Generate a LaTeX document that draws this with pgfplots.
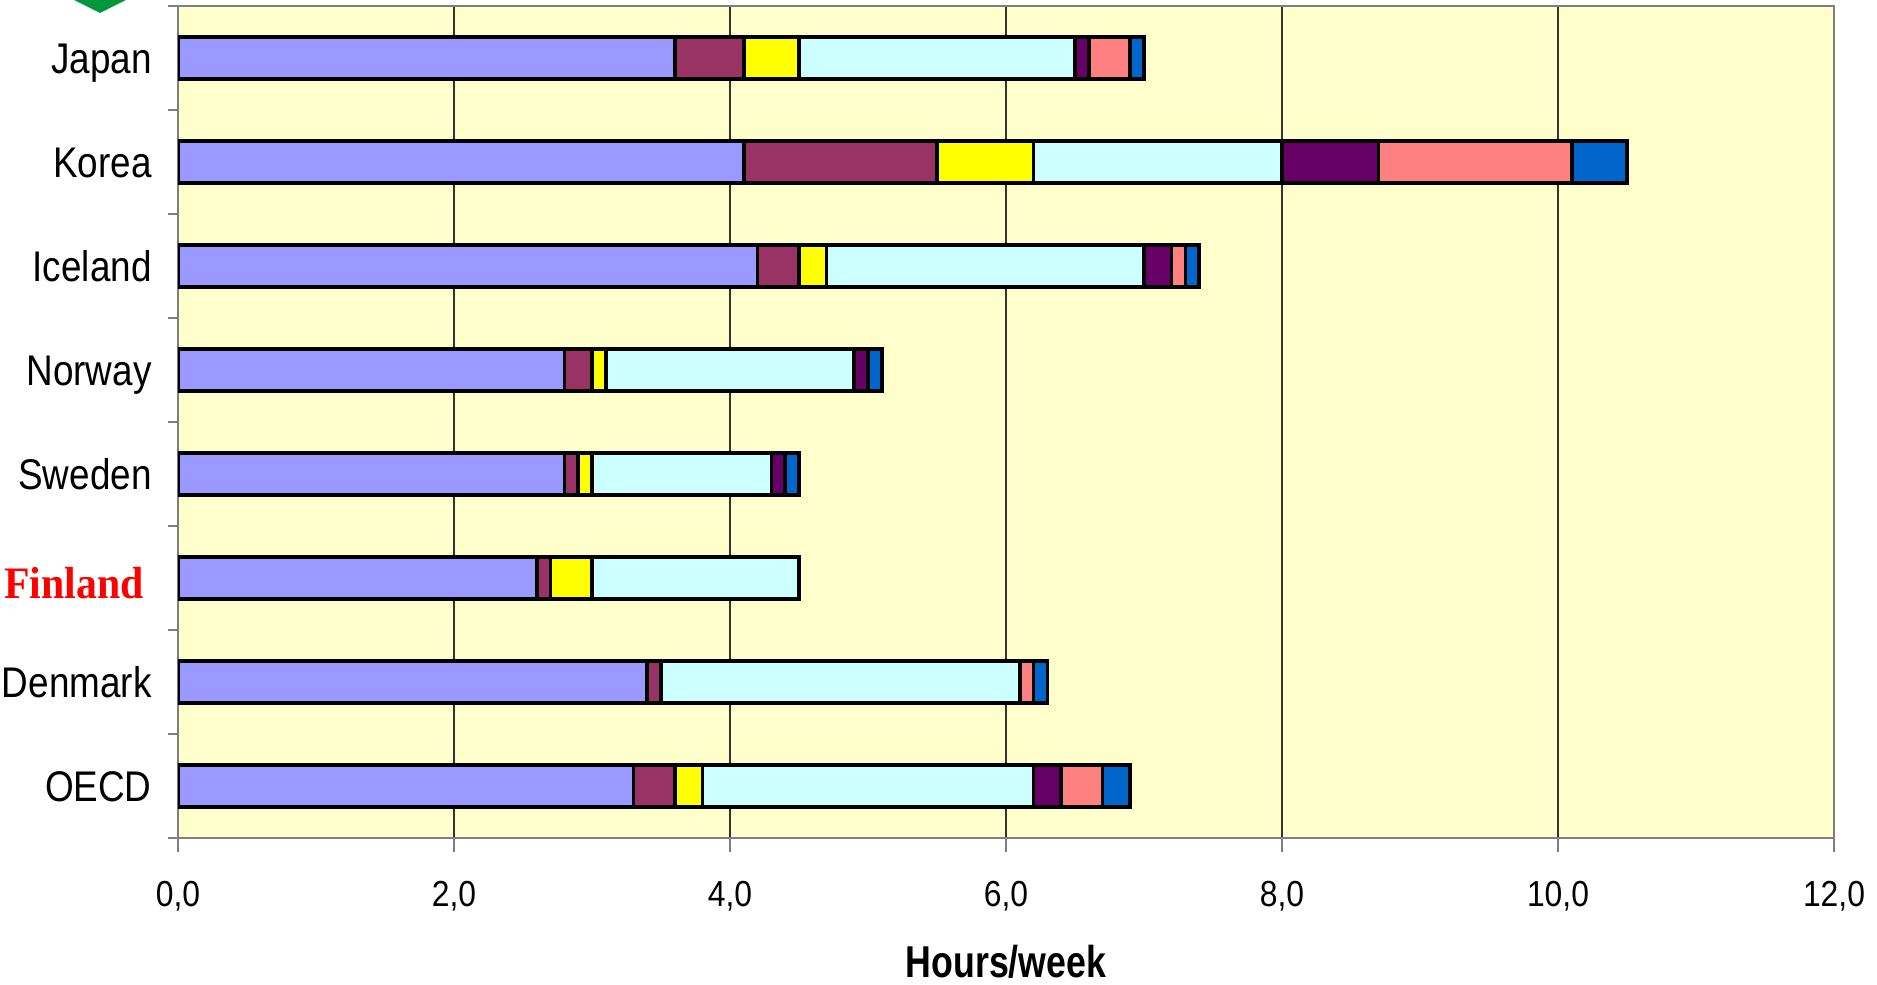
\documentclass[border=0pt]{standalone}
\usepackage{fontspec}
\setmainfont{Liberation Sans}[FakeStretch=0.86]
\newfontfamily\finfont{Liberation Serif}[FakeStretch=0.93]
\newfontfamily\labfont{Liberation Sans}[FakeStretch=0.8]
\newfontfamily\tickfont{Liberation Sans}[FakeStretch=0.88]
\usepackage{pgfplots}
\usepackage{pgfplotstable}
\pgfplotsset{compat=1.18}

\definecolor{c1}{HTML}{9999FF}
\definecolor{c2}{HTML}{993366}
\definecolor{c3}{HTML}{FFFF00}
\definecolor{c4}{HTML}{CCFFFF}
\definecolor{c5}{HTML}{660066}
\definecolor{c6}{HTML}{FF8080}
\definecolor{c7}{HTML}{0066CC}
\definecolor{bgyellow}{HTML}{FFFFCC}
\definecolor{dgreen}{RGB}{0,150,60}

% y: 8=Japan ... 1=OECD
\pgfplotstableread{
y s1  s2  s3  s4  s5  s6  s7
8 3.6 0.5 0.4 2.0 0.1 0.3 0.1
7 4.1 1.4 0.7 1.8 0.7 1.4 0.4
6 4.2 0.3 0.2 2.3 0.2 0.1 0.1
5 2.8 0.2 0.1 1.8 0.1 0.0 0.1
4 2.8 0.1 0.1 1.3 0.1 0.0 0.1
3 2.6 0.1 0.3 1.5 0.0 0.0 0.0
2 3.4 0.1 0.0 2.6 0.0 0.1 0.1
1 3.3 0.3 0.2 2.4 0.2 0.3 0.2
}\data

\begin{document}
\begin{tikzpicture}
\path[use as bounding box] (-1.78,-1.47) rectangle (16.99,8.38);
\begin{axis}[
  at={(0,0)}, anchor=south west,
  scale only axis, width=16.56cm, height=8.32cm,
  xbar stacked, bar width=0.4,
  xmin=0, xmax=12, ymin=0.5, ymax=8.5,
  xtick={0,2,...,12},
  xtick pos=bottom, ytick pos=left,
  xmajorgrids, major grid style={black!80, line width=0.3pt},
  ytick={1,...,8},
  yticklabels={OECD, Denmark, {\finfont\bfseries\fontsize{12.8}{14}\selectfont\color{red}\raisebox{-0.05cm}{Finland}\kern0.08cm}, Sweden, Norway, Iceland, Korea, Japan},
  minor ytick={0.5,1.5,...,8.5},
  major y tick style={draw=none},
  minor y tick style={draw=gray, line width=0.8pt},
  major x tick style={draw=gray, line width=0.5pt},
  tick align=outside, major tick length=0.14cm, minor tick length=0.1cm,
  axis line style={draw=gray, line width=0.8pt},
  axis background/.style={fill=bgyellow},
  xticklabel style={font=\tickfont\fontsize{10.3}{12}\selectfont, anchor=base, yshift=-0.55cm,
    /pgf/number format/fixed, /pgf/number format/fixed zerofill,
    /pgf/number format/precision=1, /pgf/number format/use comma,
    /pgf/number format/assume math mode=true},
  yticklabel style={font=\fontsize{12.2}{14}\selectfont, anchor=base east, yshift=-0.155cm},
  xlabel={Hours/week},
  xlabel style={font=\labfont\bfseries\fontsize{12.7}{14}\selectfont, at={(rel axis cs:0.5,0)}, anchor=center, yshift=-1.24cm},
  every axis plot/.append style={draw=black, line width=1pt},
]
\addplot[fill=c1] table[x=s1, y=y] {\data};
\addplot[fill=c2] table[x=s2, y=y] {\data};
\addplot[fill=c3] table[x=s3, y=y] {\data};
\addplot[fill=c4] table[x=s4, y=y] {\data};
\addplot[fill=c5] table[x=s5, y=y] {\data};
\addplot[fill=c6] table[x=s6, y=y] {\data};
\addplot[fill=c7] table[x=s7, y=y] {\data};
\end{axis}
\fill[dgreen] (-0.78,8.25) -- (-1.32,8.52) -- (-0.78,8.79) -- (-0.24,8.52) -- cycle;
\end{tikzpicture}
\end{document}
